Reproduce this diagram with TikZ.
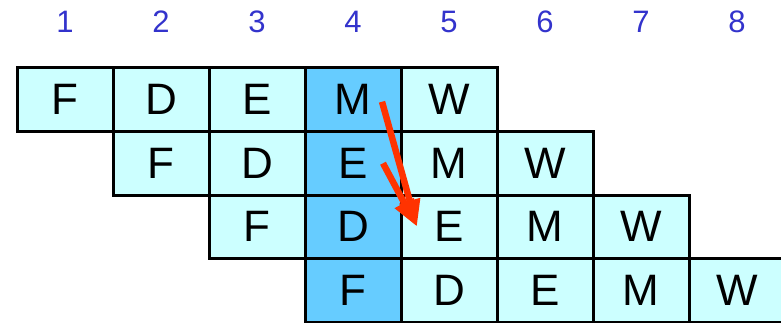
\documentclass[tikz,border=0pt]{standalone}
\usepackage{fontspec}
\setmainfont{Liberation Sans}
\usetikzlibrary{arrows.meta,positioning}
\definecolor{stlight}{HTML}{CCFFFF}
\definecolor{stdark}{HTML}{66CCFF}
\definecolor{cycblue}{HTML}{3333CC}
\definecolor{fwdred}{HTML}{FF3300}

\begin{document}
\begin{tikzpicture}[x=1pt, y=1pt,
    stage/.style={draw=black, line width=3pt, fill=stlight, outer sep=0pt,
                  inner sep=0pt, minimum width=96pt, minimum height=63.5pt,
                  font=\fontsize{44}{48}\selectfont},
    hot/.style={stage, fill=stdark},
    cyc/.style={text=cycblue, font=\fontsize{31}{34}\selectfont},
    fwd/.style={-{Triangle[length=27pt, width=20pt]}, line width=6.5pt, fwdred}]
        \useasboundingbox (0,0) rectangle (781,-323);
        % cycle numbers
        \node[cyc] (n1) at (65,-22) {1};
        \node[cyc] (n2) at (161,-22) {2};
        \node[cyc] (n3) at (257,-22) {3};
        \node[cyc] (n4) at (353,-22) {4};
        \node[cyc] (n5) at (449,-22) {5};
        \node[cyc] (n6) at (545,-22) {6};
        \node[cyc] (n7) at (641,-22) {7};
        \node[cyc] (n8) at (737,-22) {8};
        % instruction 1
        \node[stage] (r1c1) at (65,-99.75) {F};
        \node[stage, right=0pt of r1c1] (r1c2) {D};
        \node[stage, right=0pt of r1c2] (r1c3) {E};
        \node[hot, right=0pt of r1c3] (r1c4) {M};
        \node[stage, right=0pt of r1c4] (r1c5) {W};
        % instruction 2
        \node[stage, below=0pt of r1c2] (r2c2) {F};
        \node[stage, right=0pt of r2c2] (r2c3) {D};
        \node[hot, right=0pt of r2c3] (r2c4) {E};
        \node[stage, right=0pt of r2c4] (r2c5) {M};
        \node[stage, right=0pt of r2c5] (r2c6) {W};
        % instruction 3
        \node[stage, below=0pt of r2c3] (r3c3) {F};
        \node[hot, right=0pt of r3c3] (r3c4) {D};
        \node[stage, right=0pt of r3c4] (r3c5) {E};
        \node[stage, right=0pt of r3c5] (r3c6) {M};
        \node[stage, right=0pt of r3c6] (r3c7) {W};
        % instruction 4
        \node[hot, below=0pt of r3c4] (r4c4) {F};
        \node[stage, right=0pt of r4c4] (r4c5) {D};
        \node[stage, right=0pt of r4c5] (r4c6) {E};
        \node[stage, right=0pt of r4c6] (r4c7) {M};
        \node[stage, right=0pt of r4c7] (r4c8) {W};
        % forwarding
        \draw[fwd] ([xshift=30pt]r2c4.center) -- ([xshift=-32pt]r3c5.center);
        \draw[fwd] ([xshift=29pt, yshift=-2pt]r1c4.center) -- ([xshift=-32pt]r3c5.center);
      \end{tikzpicture}
\end{document}
